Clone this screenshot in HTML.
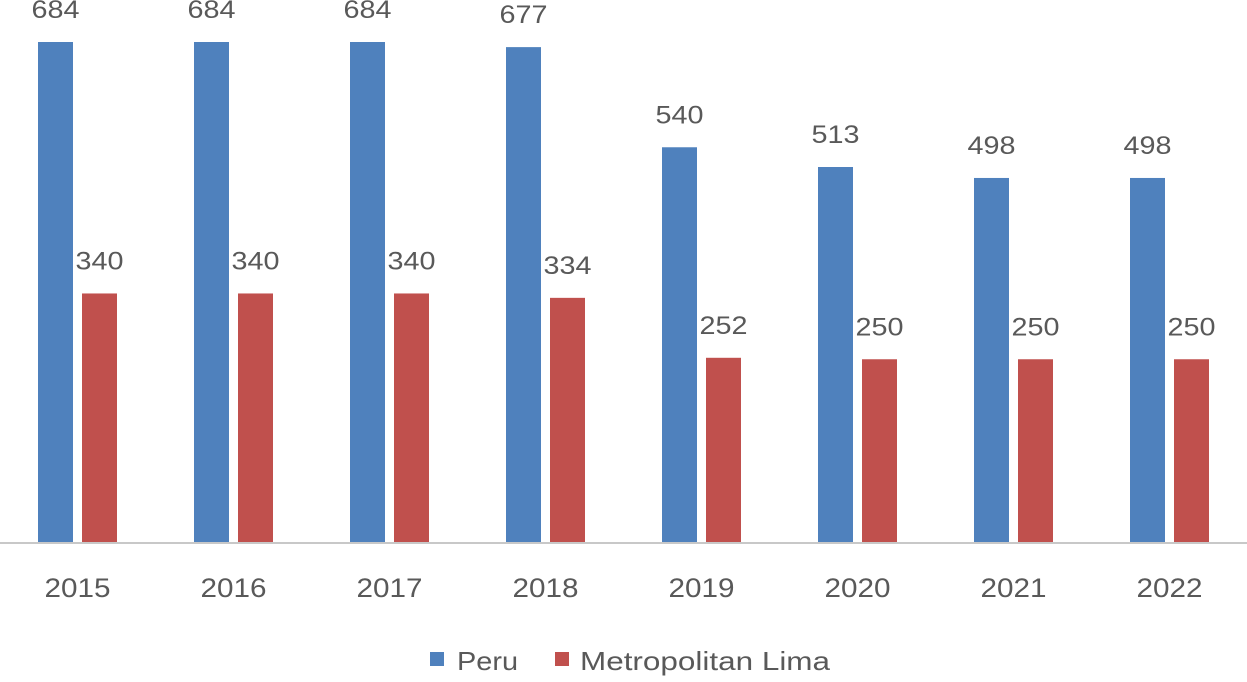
<!DOCTYPE html>
<html><head><meta charset="utf-8"><style>
body{margin:0;background:#fff;}
svg text{font-family:"Liberation Sans",sans-serif;fill:#595959;}
</style></head><body>
<svg id="chart" width="1247" height="677">
<line x1="0" y1="543" x2="1247" y2="543" stroke="#c8c8c8" stroke-width="2"/>
<g id="bars"></g>
<g>
<rect x="430" y="652" width="14" height="14" fill="#4f81bd"/>
<text x="457" y="670" font-size="26" textLength="61" lengthAdjust="spacingAndGlyphs">Peru</text>
<rect x="555" y="652" width="14" height="14" fill="#c0504d"/>
<text x="580" y="670" font-size="26" textLength="250" lengthAdjust="spacingAndGlyphs">Metropolitan Lima</text>
</g>
</svg>
<script>
const categories=["2015","2016","2017","2018","2019","2020","2021","2022"];
const peru=[684,684,684,677,540,513,498,498];
const lima=[340,340,340,334,252,250,250,250];
const ns="http://www.w3.org/2000/svg";
const g=document.getElementById("bars");
const base=542, scale=500/684, x0=38, step=156, bw=35, gap=9;
function y(v){return base-v*scale;}
function x(i){return x0+i*step;}
function mk(tag,attrs){const e=document.createElementNS(ns,tag);for(const k in attrs)e.setAttribute(k,attrs[k]);g.appendChild(e);return e;}
categories.forEach((c,i)=>{
  [[peru,"#4f81bd",0,"peru"],[lima,"#c0504d",bw+gap,"lima"]].forEach(([arr,col,off,nm])=>{
    const v=arr[i];
    const r=mk("rect",{x:x(i)+off,y:y(v),width:bw,height:base-y(v),fill:col});
    
    
    const t=mk("text",{x:x(i)+off+bw/2,y:y(v)-24,"text-anchor":"middle","font-size":"25",textLength:"48",lengthAdjust:"spacingAndGlyphs"});
    t.textContent=v;
    
    
  });
  const l=mk("text",{x:x(i)+(2*bw+gap)/2,y:597,"text-anchor":"middle","font-size":"27",textLength:"66",lengthAdjust:"spacingAndGlyphs"});
  l.textContent=c;
  
  
});
</script>
</body></html>
